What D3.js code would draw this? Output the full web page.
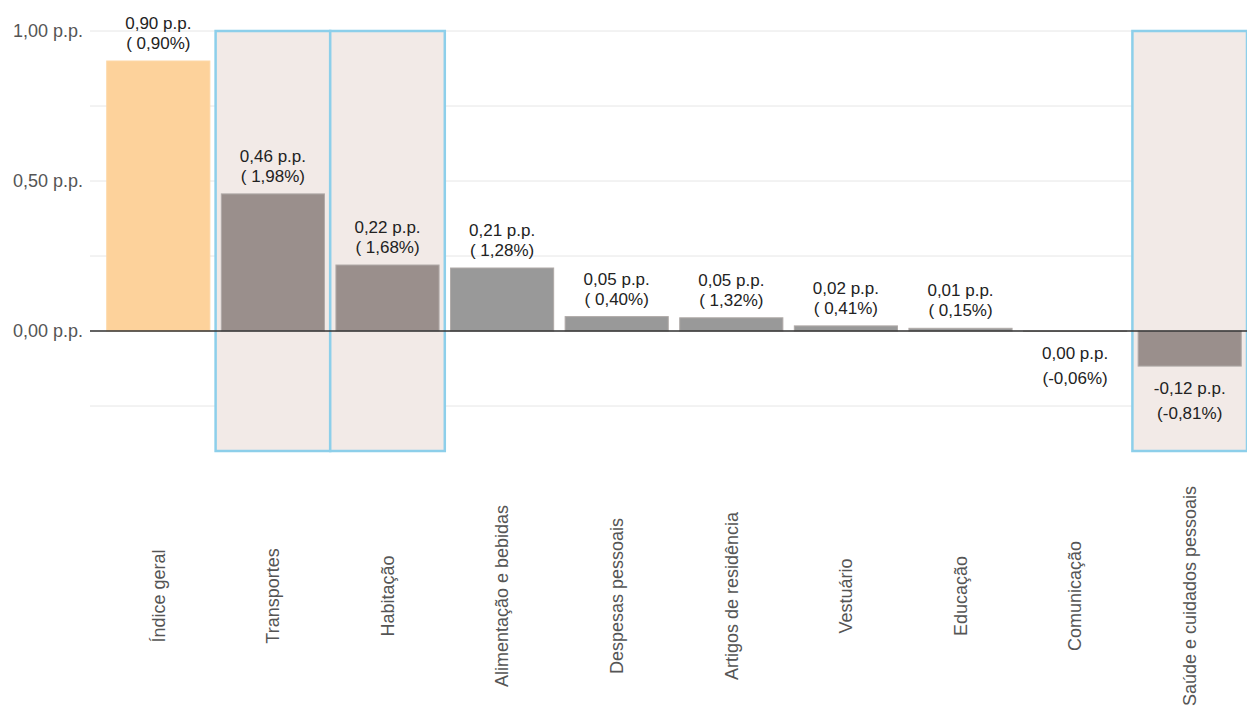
<!DOCTYPE html>
<html>
<head>
<meta charset="utf-8">
<script src="https://cdn.jsdelivr.net/npm/d3@7"></script>
<style>
  body { margin: 0; background: #fff; }
  text { font-family: "Liberation Sans", Arial, sans-serif; }
</style>
</head>
<body>
<div id="graph"></div>
<script>
// dados
const categorias = ["Índice geral", "Transportes", "Habitação", "Alimentação e bebidas",
  "Despesas pessoais", "Artigos de residência", "Vestuário", "Educação", "Comunicação",
  "Saúde e cuidados pessoais"];
const contribuicao = [0.90, 0.457, 0.22, 0.21, 0.048, 0.044, 0.017, 0.009, -0.001, -0.117];
const rotulosPP = ["0,90 p.p.", "0,46 p.p.", "0,22 p.p.", "0,21 p.p.", "0,05 p.p.", "0,05 p.p.",
  "0,02 p.p.", "0,01 p.p.", "0,00 p.p.", "-0,12 p.p."];
const rotulosPct = ["( 0,90%)", "( 1,98%)", "( 1,68%)", "( 1,28%)", "( 0,40%)", "( 1,32%)",
  "( 0,41%)", "( 0,15%)", "(-0,06%)", "(-0,81%)"];
const destaques = ["Transportes", "Habitação", "Saúde e cuidados pessoais"];
const yTicks = [1.0, 0.5, 0.0];
const yGrid = [-0.25, 0, 0.25, 0.5, 0.75, 1.0];

const w = 1247, h = 713;
const data = categorias.map((c, i) => ({
  cat: c, v: contribuicao[i], pp: rotulosPP[i], pct: rotulosPct[i]
}));

const svg = d3.select("#graph").append("svg")
  .attr("width", w).attr("height", h);

const x = d3.scaleBand().domain(categorias).range([101, 1247])
  .paddingInner(0.1).paddingOuter(0.05);
const y = d3.scaleLinear().domain([-0.4, 1.0]).range([451, 31]);
const half = x.step() * x.paddingInner() / 2;

// grade
svg.append("g").selectAll("line").data(yGrid).enter().append("line")
  .attr("x1", 90).attr("x2", w)
  .attr("y1", d => y(d)).attr("y2", d => y(d))
  .attr("stroke", "#e6e6e6").attr("stroke-width", 1);

// caixas de destaque
svg.append("g").selectAll("rect").data(destaques).enter().append("rect")
  .attr("x", d => x(d) - half)
  .attr("y", y(1.0))
  .attr("width", x.bandwidth() + 2 * half)
  .attr("height", y(-0.4) - y(1.0))
  .attr("fill", "#f2eae7")
  .attr("stroke", "#8dcfea")
  .attr("stroke-width", 2.5);

// barras
svg.append("g").selectAll("rect").data(data).enter().append("rect")
  .attr("x", d => x(d.cat))
  .attr("y", d => y(Math.max(0, d.v)))
  .attr("width", x.bandwidth())
  .attr("height", d => Math.abs(y(d.v) - y(0)))
  .attr("fill", (d, i) => i === 0 ? "#fdd29b" : destaques.includes(d.cat) ? "#9a8f8c" : "#999999")
  .attr("stroke", (d, i) => i === 0 ? "#fdd8a8" : "#b0aaa8")
  .attr("stroke-width", 1);

// linha do zero
svg.append("line")
  .attr("x1", 90).attr("x2", w)
  .attr("y1", y(0)).attr("y2", y(0))
  .attr("stroke", "#333").attr("stroke-width", 1.5);

// eixo y
svg.append("g").selectAll("text").data(yTicks).enter().append("text")
  .attr("x", 83).attr("y", d => y(d)).attr("dy", "0.35em")
  .attr("text-anchor", "end")
  .style("font-size", "18px").attr("fill", "#555")
  .text(d => d3.format(".2f")(d).replace(".", ",") + " p.p.");

// rotulos das barras
const lab = svg.append("g").selectAll("g").data(data).enter().append("g")
  .attr("transform", d => "translate(" + (x(d.cat) + x.bandwidth() / 2) + "," + y(d.v) + ")");
lab.append("text")
  .attr("text-anchor", "middle").attr("dy", "0.35em")
  .attr("y", d => d.v >= 0 ? -38 : 22)
  .style("font-size", "17px").attr("fill", "#222")
  .text(d => d.pp);
lab.append("text")
  .attr("text-anchor", "middle").attr("dy", "0.35em")
  .attr("y", d => d.v >= 0 ? -18 : 47)
  .style("font-size", "17px").attr("fill", "#222")
  .text(d => d.pct);

// rotulos das categorias
svg.append("g").selectAll("text").data(categorias).enter().append("text")
  .attr("transform", d => "translate(" + (x(d) + x.bandwidth() / 2) + ",596) rotate(-90)")
  .attr("text-anchor", "middle").attr("dy", "0.35em")
  .style("font-size", "18px").attr("fill", "#555")
  .text(d => d);
</script>
</body>
</html>
